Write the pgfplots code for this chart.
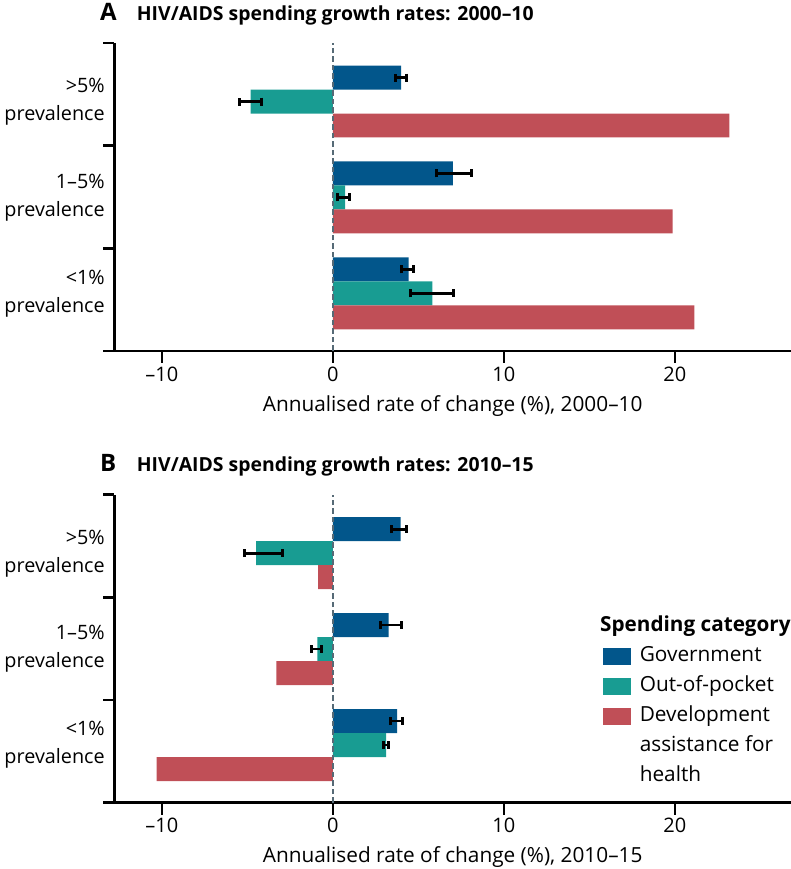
\documentclass[border=0pt]{standalone}
\usepackage{fontspec}
\setmainfont{Open Sans}
\usepackage{pgfplots}
\pgfplotsset{compat=1.18}
\definecolor{gov}{HTML}{02568B}
\definecolor{oop}{HTML}{189C92}
\definecolor{dah}{HTML}{C04F57}
\definecolor{zline}{HTML}{566A76}
\pgfplotsset{
  panel/.style={
    scale only axis, width=676.7pt, height=308pt,
    xmin=-12.78, xmax=26.8, ymin=0.40, ymax=3.61,
    axis x line*=bottom, axis y line*=left,
    axis line style={line width=2.5pt, black},
    x axis line style={shorten <=-11pt},
    xtick={-10,0,10,20}, xticklabels={–10,0,10,20},
    xtick style={line width=2.5pt, black},
    major tick length=12pt, tick align=outside,
    xticklabel style={font=\fontsize{20}{22}\selectfont},
    ytick={1,2,3},
    yticklabels={{<1\%\\prevalence},{1–5\%\\prevalence},{>5\%\\prevalence}},
    ytick style={draw=none},
    yticklabel style={align=right, font=\fontsize{19.8}{28}\selectfont, xshift=6pt},
    extra y ticks={1.47,2.54,3.61}, extra y tick labels={},
    extra y tick style={ytick style={draw=black, line width=2.5pt}, major tick length=11pt},
    xlabel style={font=\fontsize{20.8}{22}\selectfont, yshift=-7pt},
    xbar, bar shift=0pt, bar width=0.25,
    clip=false,
    error bars/error mark=|,
    error bars/error bar style={line width=2.6pt, black},
    error bars/error mark options={line width=3pt, mark size=4pt, black},
    legend image code/.code={\fill[#1] (0pt,-8.5pt) rectangle (27.6pt,8.5pt);},
  },
  errs/.style={error bars/.cd, x dir=both, x explicit},
}
\begin{document}
\begin{tikzpicture}
\useasboundingbox (0,0) rectangle (791pt,869pt);
% Panel A
\begin{axis}[panel, at={(114.3pt,518pt)}, anchor=south west,
  xlabel={Annualised rate of change (\%), 2000–10}]
\addplot[fill=gov, draw=none, errs] coordinates {
  (4.00,3.25) += (0.30,0) -= (0.35,0)
  (7.02,2.25) += (1.09,0) -= (0.96,0)
  (4.43,1.25) += (0.31,0) -= (0.39,0)
};
\addplot[fill=oop, draw=none, errs] coordinates {
  (-4.81,3) += (0.62,0) -= (0.65,0)
  (0.72,2) += (0.27,0) -= (0.43,0)
  (5.83,1) += (1.25,0) -= (1.31,0)
};
\addplot[fill=dah, draw=none] coordinates {
  (23.2,2.75) (19.88,1.75) (21.15,0.75)
};
\draw[zline, line width=2.6pt, dash pattern=on 5.5pt off 3pt] (axis cs:0,0.40) -- (axis cs:0,3.61);
\end{axis}
% Panel B
\begin{axis}[panel, at={(114.3pt,66.3pt)}, anchor=south west,
  xlabel={Annualised rate of change (\%), 2010–15},
  legend style={at={(603pt-114.3pt,869pt-66.3pt-646pt)}, anchor=north west, draw=none, fill=none,
    inner sep=0pt, font=\fontsize{20.8}{22}\selectfont, row sep=10pt,
    nodes={inner sep=0pt, text height=15pt, text depth=5pt},
    /tikz/every odd column/.append style={column sep=9pt}},
  legend cell align=left]
\addplot[fill=gov, draw=none, errs] coordinates {
  (3.96,3.25) += (0.36,0) -= (0.53,0)
  (3.27,2.25) += (0.76,0) -= (0.49,0)
  (3.76,1.25) += (0.31,0) -= (0.41,0)
};
\addlegendentry{Government}
\addplot[fill=oop, draw=none, errs] coordinates {
  (-4.49,3) += (1.54,0) -= (0.66,0)
  (-0.90,2) += (0.25,0) -= (0.35,0)
  (3.12,1) += (0.11,0) -= (0.18,0)
};
\addlegendentry{Out-of-pocket}
\addplot[fill=dah, draw=none] coordinates {
  (-0.86,2.75) (-3.30,1.75) (-10.3,0.75)
};
\addlegendentry{Development}
\addlegendimage{empty legend}\addlegendentry{assistance for}
\addlegendimage{empty legend}\addlegendentry{health}
\draw[zline, line width=2.6pt, dash pattern=on 5.5pt off 3pt] (axis cs:0,0.40) -- (axis cs:0,3.61);
\end{axis}
\node[anchor=base west, inner sep=0pt, font=\fontsize{24}{24}\selectfont\bfseries] at (100pt,848.3pt) {A};
\node[anchor=base west, inner sep=0pt, font=\fontsize{19.4}{22}\selectfont\bfseries] at (136.7pt,848.3pt) {HIV/AIDS spending growth rates: 2000–10};
\node[anchor=base west, inner sep=0pt, font=\fontsize{24}{24}\selectfont\bfseries] at (100pt,397pt) {B};
\node[anchor=base west, inner sep=0pt, font=\fontsize{19.4}{22}\selectfont\bfseries] at (136.7pt,397pt) {HIV/AIDS spending growth rates: 2010–15};
\node[anchor=base west, inner sep=0pt, font=\fontsize{20.7}{22}\selectfont\bfseries] at (600pt,237pt) {Spending category};
\end{tikzpicture}
\end{document}
